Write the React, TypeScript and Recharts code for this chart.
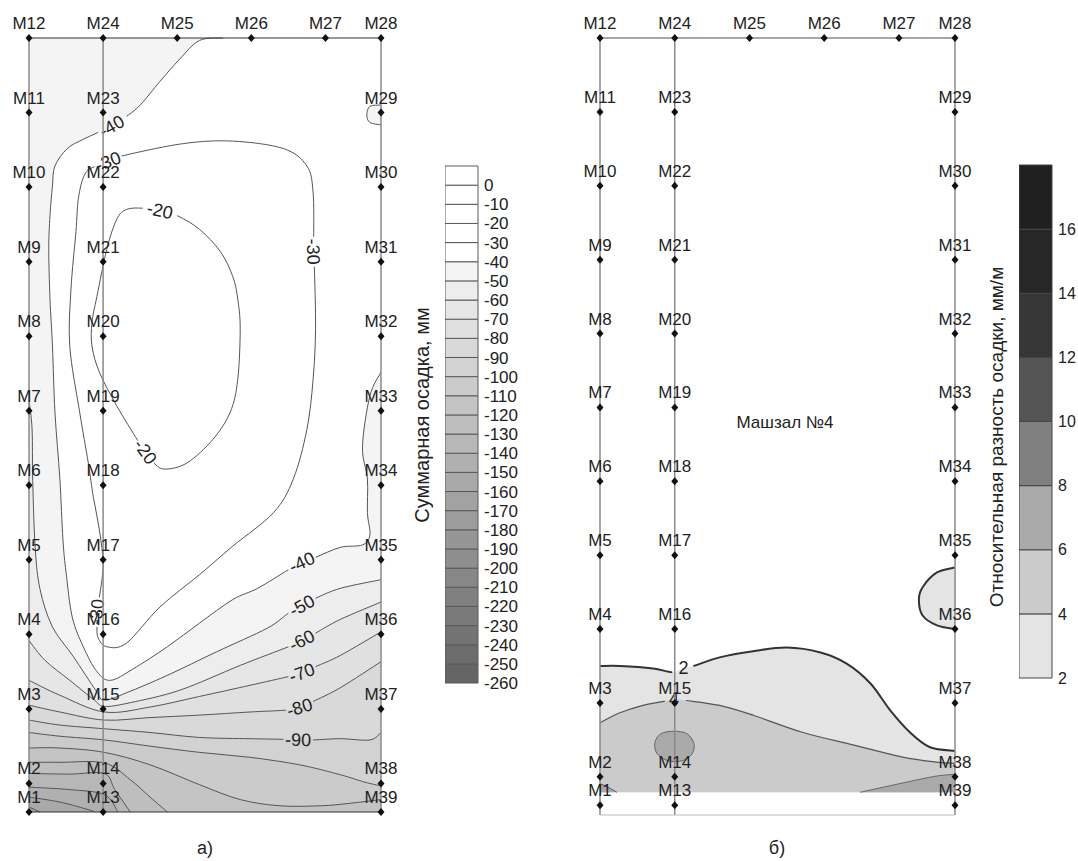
import React from "react";
import { Scatter, ScatterChart, XAxis, YAxis } from "recharts";

type Pt = { x: number; y: number };
type Mark = Pt & { name: string };

const font = '"Liberation Sans", Arial, sans-serif';

const toPts = (rows: number[][]): Pt[] => rows.map(([x, y]) => ({ x, y }));

// benchmarks, plan coordinates in metres (M1 at the origin)
const leftMarks: Mark[] = [
  { name: "M1", x: 0, y: 0 },
  { name: "M2", x: 0, y: 2.3 },
  { name: "M3", x: 0, y: 8.3 },
  { name: "M4", x: 0, y: 14.3 },
  { name: "M5", x: 0, y: 20.3 },
  { name: "M6", x: 0, y: 26.3 },
  { name: "M7", x: 0, y: 32.3 },
  { name: "M8", x: 0, y: 38.3 },
  { name: "M9", x: 0, y: 44.3 },
  { name: "M10", x: 0, y: 50.3 },
  { name: "M11", x: 0, y: 56.3 },
  { name: "M12", x: 0, y: 62.3 },
];

const innerMarks: Mark[] = [
  { name: "M13", x: 6, y: 0 },
  { name: "M14", x: 6, y: 2.3 },
  { name: "M15", x: 6, y: 8.3 },
  { name: "M16", x: 6, y: 14.3 },
  { name: "M17", x: 6, y: 20.3 },
  { name: "M18", x: 6, y: 26.3 },
  { name: "M19", x: 6, y: 32.3 },
  { name: "M20", x: 6, y: 38.3 },
  { name: "M21", x: 6, y: 44.3 },
  { name: "M22", x: 6, y: 50.3 },
  { name: "M23", x: 6, y: 56.3 },
  { name: "M24", x: 6, y: 62.3 },
];

const topMarks: Mark[] = [
  { name: "M25", x: 12, y: 62.3 },
  { name: "M26", x: 18, y: 62.3 },
  { name: "M27", x: 24, y: 62.3 },
];

const rightMarks: Mark[] = [
  { name: "M28", x: 28.5, y: 62.3 },
  { name: "M29", x: 28.5, y: 56.3 },
  { name: "M30", x: 28.5, y: 50.3 },
  { name: "M31", x: 28.5, y: 44.3 },
  { name: "M32", x: 28.5, y: 38.3 },
  { name: "M33", x: 28.5, y: 32.3 },
  { name: "M34", x: 28.5, y: 26.3 },
  { name: "M35", x: 28.5, y: 20.3 },
  { name: "M36", x: 28.5, y: 14.3 },
  { name: "M37", x: 28.5, y: 8.3 },
  { name: "M38", x: 28.5, y: 2.3 },
  { name: "M39", x: 28.5, y: 0 },
];

const allMarks = [...leftMarks, ...innerMarks, ...topMarks, ...rightMarks];

// panel a: total settlement isolines, mm
const isoA20 = toPts([
  [7.9, 48.5], [9.2, 48.6], [10.6, 48.4], [12.0, 48.0], [13.8, 46.9], [15.5, 45.1],
  [16.5, 43.1], [16.9, 41.3], [17.1, 38.9], [16.9, 34.8], [16.3, 32.2], [14.9, 30.0],
  [12.8, 28.1], [11.0, 27.6], [10.1, 28.1], [9.4, 29.0], [8.8, 29.9], [7.1, 32.7],
  [5.7, 35.4], [5.1, 37.5], [5.1, 39.4], [5.5, 41.5], [6.3, 45.3], [7.1, 47.7],
]);

const isoA30 = toPts([
  [7.5, 52.8], [12.5, 53.8], [16.5, 54.0], [20.6, 53.4], [22.5, 52.0], [23.0, 49.9],
  [23.05, 46.3], [23.0, 45.1], [23.1, 43.9], [23.2, 38.9], [23.0, 34.8], [22.5, 30.8],
  [21.4, 26.8], [19.8, 24.1], [16.5, 21.4], [13.8, 19.1], [10.6, 16.5], [7.9, 13.6],
  [6.3, 13.3], [5.6, 14.0], [5.5, 14.9], [5.5, 16.1], [5.7, 17.3], [6.0, 19.9],
  [5.7, 22.7], [5.2, 25.4], [4.8, 28.1], [4.1, 32.2], [3.3, 37.5], [3.4, 42.1],
  [3.8, 46.7], [4.0, 49.4], [4.5, 51.3], [5.3, 51.95], [6.4, 52.35],
]);

const isoA40 = toPts([
  [28.5, 35.4], [27.6, 33.5], [27.0, 29.4], [27.4, 26.8], [27.4, 24.1], [27.6, 22.3],
  [27.0, 21.5], [25.2, 21.3], [23.2, 20.5], [22.1, 20.1], [21.0, 19.5], [18.5, 18.0],
  [16.5, 17.1], [13.8, 15.2], [11.2, 13.3], [8.4, 11.5], [6.6, 10.6], [5.5, 11.3],
  [4.4, 13.3], [3.5, 15.7], [3.0, 19.3], [2.75, 21.9], [2.5, 26.8], [2.1, 32.2],
  [1.9, 37.5], [1.7, 41.3], [1.6, 45.3], [1.7, 48.0], [1.9, 50.4], [2.1, 52.0],
  [3.1, 53.4], [4.3, 54.1], [5.6, 54.7], [6.7, 55.2], [7.9, 56.0], [9.0, 56.9],
  [10.6, 58.8], [12.2, 60.6], [13.8, 62.1], [15.7, 62.3],
]);

const isoA40m29 = toPts([[28.5, 56.9], [27.6, 56.8], [27.35, 56.1], [27.6, 55.5], [28.5, 55.3]]);

const isoA50 = toPts([
  [0, 33.2], [0.25, 30.8], [0.3, 26.7], [0.5, 21.3], [0.9, 17.9], [1.9, 14.9], [3.6, 12.5],
  [5.4, 9.8], [6.1, 9.0], [7.9, 9.6], [11.2, 11.0], [15.2, 12.9], [19.3, 14.8], [21.0, 16.0],
  [22.1, 16.6], [23.2, 17.2], [25.2, 18.0], [28.5, 18.7],
]);
const isoA60 = toPts([
  [0, 13.8], [1.3, 12.2], [3.3, 10.6], [5.3, 9.0], [6.1, 8.5], [8.2, 8.8], [12.2, 9.8],
  [17.1, 11.8], [21.0, 13.3], [22.1, 13.8], [23.2, 14.4], [25.2, 15.5], [28.5, 16.9],
]);
const isoA70 = toPts([
  [0, 10.6], [2.5, 9.4], [6.1, 8.05], [9.8, 8.45], [13.8, 9.3], [17.9, 10.2], [21.0, 10.9],
  [22.1, 11.2], [23.2, 11.7], [25.2, 12.6], [28.5, 14.5],
]);
const isoA80 = toPts([
  [0, 8.6], [2.5, 8.05], [6.1, 7.4], [9.8, 7.6], [13.8, 7.8], [17.9, 8.05], [20.8, 8.2],
  [21.9, 8.4], [23.0, 8.9], [25.2, 10.0], [28.5, 12.1],
]);
const isoA90 = toPts([
  [0, 7.4], [2.5, 7.0], [6.1, 6.7], [9.8, 6.4], [13.8, 6.0], [17.9, 5.9], [20.6, 5.85],
  [21.8, 5.8], [23.0, 5.8], [25.2, 5.9], [27.6, 5.8], [28.5, 6.4],
]);
const isoA100 = toPts([
  [0, 6.4], [2.5, 6.1], [6.1, 5.8], [9.8, 5.3], [13.8, 4.8], [17.9, 4.4], [21.9, 3.8],
  [25.2, 3.0], [27.2, 2.4], [28.5, 2.1],
]);
const isoA110 = toPts([
  [0, 5.15], [2.5, 5.15], [6.1, 4.8], [9.8, 3.8], [13.8, 2.2], [17.1, 1.0], [20.3, 0.5],
  [23.6, 0.5], [26.0, 0.7], [28.5, 1.0],
]);
const isoA120 = toPts([[0, 4.0], [2.5, 4.0], [6.1, 3.95], [8.2, 2.6], [9.8, 1.2], [11.2, 0]]);
const isoA130 = toPts([[0, 3.1], [3.3, 3.05], [6.1, 3.1], [6.95, 1.8], [8.2, 0]]);
const isoA140 = toPts([[0, 2.0], [3.3, 1.8], [6.1, 1.4], [7.2, 0]]);
const isoA150 = toPts([[0, 1.2], [2.5, 0.8], [4.9, 0.16], [5.3, 0]]);
const isoA160 = toPts([[0, 0.4], [0.9, 0]]);

const lowerIsoA = [
  { level: -50, line: isoA50, tags: [14] },
  { level: -60, line: isoA60, tags: [9] },
  { level: -70, line: isoA70, tags: [7] },
  { level: -80, line: isoA80, tags: [7] },
  { level: -90, line: isoA90, tags: [7] },
  { level: -100, line: isoA100, tags: [] },
  { level: -110, line: isoA110, tags: [] },
  { level: -120, line: isoA120, tags: [] },
  { level: -130, line: isoA130, tags: [] },
  { level: -140, line: isoA140, tags: [] },
  { level: -150, line: isoA150, tags: [] },
  { level: -160, line: isoA160, tags: [] },
];

const legendTicksA = [
  0, -10, -20, -30, -40, -50, -60, -70, -80, -90, -100, -110, -120, -130,
  -140, -150, -160, -170, -180, -190, -200, -210, -220, -230, -240, -250, -260,
];
const legendTopA = 10;

// panel b: relative settlement difference, mm/m
const lowEdgeB: Pt[] = [{ x: 0, y: -0.8 }, { x: 6, y: -0.8 }, { x: 28.5, y: -0.8 }];
const fieldFloorB: Pt[] = [{ x: 28.5, y: 1.05 }, { x: 0, y: 1.05 }];

const isoB2 = toPts([
  [0, 11.3], [1.6, 11.3], [4.25, 11.1], [5.8, 10.8], [6.7, 11.1], [7.5, 11.3], [9.6, 12.0],
  [12.3, 12.5], [15.0, 12.8], [17.7, 12.4], [19.8, 11.5], [21.7, 9.9], [23.3, 7.7],
  [24.9, 5.9], [26.5, 4.7], [28.5, 4.4],
]);
const isoB2side = toPts([
  [28.5, 19.3], [27.05, 18.9], [25.9, 17.7], [25.6, 16.7], [25.9, 15.4], [27.05, 14.6], [28.5, 14.3],
]);
const isoB4 = toPts([
  [0, 6.7], [1.6, 7.5], [3.45, 8.1], [5.2, 8.45], [5.95, 8.6], [6.9, 8.5], [9.6, 8.1],
  [12.3, 7.3], [16.3, 5.9], [20.3, 4.9], [24.3, 3.9], [27.0, 3.5], [28.5, 3.4],
]);
const isoB6spot = toPts([
  [5.94, 6.0], [6.98, 5.8], [7.54, 5.0], [7.38, 4.15], [6.58, 3.6], [5.46, 3.6],
  [4.57, 4.2], [4.41, 5.1], [4.9, 5.8],
]);
const isoB6edge = toPts([[20.9, 1.05], [24.3, 1.8], [27.0, 2.36], [28.5, 2.5]]);
const isoB6corner = toPts([[0, 1.75], [0.65, 1.45], [1.35, 1.05]]);

const hallB: Mark[] = [{ name: "Машзал №4", x: 14.85, y: 31.1 }];

const legendTicksB = [2, 4, 6, 8, 10, 12, 14, 16];
const legendTopB = 18;
const shadesB = ["#e4e4e4", "#cbcbcb", "#aaaaaa", "#808080", "#555555", "#363636", "#272727", "#202020"];

const greyA = (level: number) => {
  const v = level > -40 ? 255 : Math.round(244 - 0.68 * (-40 - level));
  return `rgb(${v},${v},${v})`;
};

const none = () => <g />;

function pieces(pts: Pt[], closed: boolean) {
  const n = pts.length;
  const at = (i: number) => (closed ? pts[((i % n) + n) % n] : pts[Math.min(n - 1, Math.max(0, i))]);
  const out: { a: number; b: number; m: string; c: string }[] = [];
  const count = closed ? n : n - 1;
  for (let i = 0; i < count; i++) {
    const p0 = at(i - 1);
    const p1 = at(i);
    const p2 = at(i + 1);
    const p3 = at(i + 2);
    const c1x = p1.x + (p2.x - p0.x) / 6;
    const c1y = p1.y + (p2.y - p0.y) / 6;
    const c2x = p2.x - (p3.x - p1.x) / 6;
    const c2y = p2.y - (p3.y - p1.y) / 6;
    out.push({ a: i, b: (i + 1) % n, m: `M${p1.x},${p1.y}`, c: `C${c1x},${c1y} ${c2x},${c2y} ${p2.x},${p2.y}` });
  }
  return out;
}

// filled region: smooth along the isoline, straight along the frame
function Patch(props: any) {
  const pts: Pt[] = props.points || [];
  if (pts.length < 2) return null;
  const k = props.smooth ?? pts.length;
  let d = `M${pts[0].x},${pts[0].y}`;
  if (k >= 2) d += pieces(pts.slice(0, k), !!props.loop).map((s) => s.c).join("");
  pts.slice(Math.max(k, 1)).forEach((p) => (d += `L${p.x},${p.y}`));
  return <path d={d + "Z"} fill={props.paint} stroke={props.edge || "none"} strokeWidth={1} />;
}

function Isoline(props: any) {
  const pts: Pt[] = props.points || [];
  if (pts.length < 2) return null;
  const closed = !!props.loop;
  const tags: number[] = props.tags || [];
  const n = pts.length;
  const d = pieces(pts, closed)
    .filter((s) => !tags.includes(s.a) && !tags.includes(s.b))
    .map((s) => s.m + s.c)
    .join("");
  return (
    <g>
      <path d={d} fill="none" stroke={props.ink} strokeWidth={props.weight} />
      {tags.map((i) => {
        const p = pts[i];
        const prev = closed ? pts[(i - 1 + n) % n] : pts[Math.max(0, i - 1)];
        const next = closed ? pts[(i + 1) % n] : pts[Math.min(n - 1, i + 1)];
        let ang = props.upright ? 0 : (Math.atan2(next.y - prev.y, next.x - prev.x) * 180) / Math.PI;
        if (ang > 91) ang -= 180;
        if (ang < -91) ang += 180;
        return (
          <text
            key={i}
            x={p.x}
            y={p.y}
            transform={`rotate(${ang.toFixed(1)} ${p.x} ${p.y})`}
            textAnchor="middle"
            dominantBaseline="central"
            fontSize={props.size}
            fill="#222"
          >
            {props.caption}
          </text>
        );
      })}
    </g>
  );
}

const renderMark = (props: any) => {
  const { cx, cy, payload } = props;
  return (
    <g>
      <path d={`M${cx},${cy - 4}L${cx + 3.5},${cy}L${cx},${cy + 4}L${cx - 3.5},${cy}Z`} fill="#111" />
      <text x={cx} y={cy - 9} textAnchor="middle" fontSize={17} fill="#222">
        {payload.name}
      </text>
    </g>
  );
};

const renderTitle = (props: any) => (
  <text x={props.cx} y={props.cy} textAnchor="middle" dominantBaseline="central" fontSize={17} fill="#222">
    {props.payload.name}
  </text>
);

const floorA = (line: Pt[]) =>
  line[line.length - 1].x >= 28.5 ? [...line, rightMarks[11], leftMarks[0]] : [...line, leftMarks[0]];

const frameA = [leftMarks[0], rightMarks[11], rightMarks[0], leftMarks[11]];
const topEdge = [leftMarks[11], innerMarks[11], ...topMarks, rightMarks[0]];
const bottomEdgeA = [leftMarks[0], innerMarks[0], rightMarks[11]];

const labelSize = 18;

function PanelA() {
  return (
    <ScatterChart width={420} height={861} margin={{ top: 38, right: 39, bottom: 49, left: 29 }}>
      <XAxis type="number" dataKey="x" domain={[0, 28.5]} hide />
      <YAxis type="number" dataKey="y" domain={[0, 62.3]} hide />
      <Scatter data={frameA} shape={none} isAnimationActive={false} line={<Patch paint={greyA(-40)} smooth={0} />} />
      <Scatter
        data={[...isoA40, rightMarks[0]]}
        shape={none}
        isAnimationActive={false}
        line={<Patch paint="#ffffff" smooth={isoA40.length} />}
      />
      <Scatter data={isoA40m29} shape={none} isAnimationActive={false} line={<Patch paint={greyA(-40)} />} />
      {lowerIsoA.map((iso) => (
        <Scatter
          key={`f${iso.level}`}
          data={floorA(iso.line)}
          shape={none}
          isAnimationActive={false}
          line={<Patch paint={greyA(iso.level)} smooth={iso.line.length} />}
        />
      ))}
      <Scatter data={isoA20} shape={none} isAnimationActive={false}
        line={<Isoline loop tags={[2, 15]} caption="-20" ink="#555" weight={1} size={labelSize} />} />
      <Scatter data={isoA30} shape={none} isAnimationActive={false}
        line={<Isoline loop tags={[7, 21, 34]} caption="-30" ink="#555" weight={1} size={labelSize} />} />
      <Scatter data={isoA40} shape={none} isAnimationActive={false}
        line={<Isoline tags={[9, 33]} caption="-40" ink="#555" weight={1} size={labelSize} />} />
      <Scatter data={isoA40m29} shape={none} isAnimationActive={false}
        line={<Isoline tags={[]} caption="" ink="#555" weight={1} size={labelSize} />} />
      {lowerIsoA.map((iso) => (
        <Scatter
          key={`l${iso.level}`}
          data={iso.line}
          shape={none}
          isAnimationActive={false}
          line={<Isoline tags={iso.tags} caption={String(iso.level)} ink="#555" weight={1} size={labelSize} />}
        />
      ))}
      <Scatter data={leftMarks} shape={none} isAnimationActive={false} line={{ stroke: "#8a8a8a", strokeWidth: 1.5 }} />
      <Scatter data={innerMarks} shape={none} isAnimationActive={false} line={{ stroke: "#8a8a8a", strokeWidth: 1.5 }} />
      <Scatter data={rightMarks} shape={none} isAnimationActive={false} line={{ stroke: "#8a8a8a", strokeWidth: 1.5 }} />
      <Scatter data={topEdge} shape={none} isAnimationActive={false} line={{ stroke: "#333", strokeWidth: 1.2 }} />
      <Scatter data={bottomEdgeA} shape={none} isAnimationActive={false} line={{ stroke: "#333", strokeWidth: 1.2 }} />
      <Scatter data={allMarks} shape={renderMark} isAnimationActive={false} />
    </ScatterChart>
  );
}

function PanelB() {
  const floorB = (line: Pt[]) => [...line, ...fieldFloorB];
  return (
    <ScatterChart width={440} height={861} margin={{ top: 38, right: 45, bottom: 46, left: 40 }}>
      <XAxis type="number" dataKey="x" domain={[0, 28.5]} hide />
      <YAxis type="number" dataKey="y" domain={[-0.8, 62.3]} hide />
      <Scatter data={floorB(isoB2)} shape={none} isAnimationActive={false}
        line={<Patch paint={shadesB[0]} smooth={isoB2.length} />} />
      <Scatter data={isoB2side} shape={none} isAnimationActive={false} line={<Patch paint={shadesB[0]} />} />
      <Scatter data={floorB(isoB4)} shape={none} isAnimationActive={false}
        line={<Patch paint={shadesB[1]} smooth={isoB4.length} />} />
      <Scatter data={isoB6spot} shape={none} isAnimationActive={false} line={<Patch paint={shadesB[2]} loop />} />
      <Scatter data={[...isoB6edge, fieldFloorB[0]]} shape={none} isAnimationActive={false}
        line={<Patch paint={shadesB[2]} smooth={isoB6edge.length} />} />
      <Scatter data={[...isoB6corner, fieldFloorB[1]]} shape={none} isAnimationActive={false}
        line={<Patch paint={shadesB[2]} smooth={isoB6corner.length} />} />
      <Scatter data={isoB2} shape={none} isAnimationActive={false}
        line={<Isoline tags={[4]} upright caption="2" ink="#333" weight={2} size={labelSize} />} />
      <Scatter data={isoB2side} shape={none} isAnimationActive={false}
        line={<Isoline tags={[]} caption="" ink="#333" weight={2} size={labelSize} />} />
      <Scatter data={isoB4} shape={none} isAnimationActive={false}
        line={<Isoline tags={[4]} upright caption="4" ink="#555" weight={1.2} size={labelSize} />} />
      <Scatter data={isoB6spot} shape={none} isAnimationActive={false}
        line={<Isoline loop tags={[]} caption="" ink="#666" weight={1} size={labelSize} />} />
      <Scatter data={isoB6edge} shape={none} isAnimationActive={false}
        line={<Isoline tags={[]} caption="" ink="#666" weight={1} size={labelSize} />} />
      <Scatter data={isoB6corner} shape={none} isAnimationActive={false}
        line={<Isoline tags={[]} caption="" ink="#555" weight={1} size={labelSize} />} />
      <Scatter data={[lowEdgeB[0], ...leftMarks]} shape={none} isAnimationActive={false} line={{ stroke: "#8a8a8a", strokeWidth: 1.5 }} />
      <Scatter data={[lowEdgeB[1], ...innerMarks]} shape={none} isAnimationActive={false} line={{ stroke: "#8a8a8a", strokeWidth: 1.5 }} />
      <Scatter data={[...rightMarks, lowEdgeB[2]]} shape={none} isAnimationActive={false} line={{ stroke: "#8a8a8a", strokeWidth: 1.5 }} />
      <Scatter data={topEdge} shape={none} isAnimationActive={false} line={{ stroke: "#8a8a8a", strokeWidth: 1.5 }} />
      <Scatter data={lowEdgeB} shape={none} isAnimationActive={false} line={{ stroke: "#bbb", strokeWidth: 1.2 }} />
      <Scatter data={allMarks} shape={renderMark} isAnimationActive={false} />
      <Scatter data={hallB} shape={renderTitle} isAnimationActive={false} />
    </ScatterChart>
  );
}

const cell = (lo: number, hi: number): Pt[] => [
  { x: 0, y: lo },
  { x: 1, y: lo },
  { x: 1, y: hi },
  { x: 0, y: hi },
];

function ColourBar(props: {
  ticks: number[];
  top: number;
  fills: string[];
  edge: string;
  axisWidth: number;
  fontSize: number;
  marginTop: number;
  marginBottom: number;
}) {
  const { ticks, top, fills, edge, axisWidth, fontSize, marginTop, marginBottom } = props;
  const sorted = [...ticks].sort((a, b) => a - b);
  const bands = sorted.map((lo, i) => ({ lo, hi: i === sorted.length - 1 ? top : sorted[i + 1] }));
  return (
    <ScatterChart width={33 + axisWidth} height={861} margin={{ top: marginTop, right: 0, bottom: marginBottom, left: 0 }}>
      <XAxis type="number" dataKey="x" domain={[0, 1]} hide />
      <YAxis
        type="number"
        dataKey="y"
        orientation="right"
        domain={[sorted[0], top]}
        ticks={ticks}
        interval={0}
        width={axisWidth}
        tickLine={false}
        axisLine={false}
        tickSize={4}
        tickMargin={2}
        tick={{ fill: "#222", fontSize }}
      />
      {bands.map((b, i) => (
        <Scatter
          key={b.lo}
          data={cell(b.lo, b.hi)}
          shape={none}
          isAnimationActive={false}
          line={<Patch paint={fills[i]} edge={edge} smooth={0} />}
        />
      ))}
    </ScatterChart>
  );
}

const abs = (left: number, top: number): React.CSSProperties => ({ position: "absolute", left, top });

const caption = (cx: number, cy: number, rotate: boolean, size: number): React.CSSProperties => ({
  position: "absolute",
  left: cx,
  top: cy,
  transform: `translate(-50%, -50%)${rotate ? " rotate(-90deg)" : ""}`,
  whiteSpace: "nowrap",
  fontSize: size,
  color: "#222",
});

export default function App() {
  const sortedA = [...legendTicksA].sort((a, b) => a - b);
  const fillsA = sortedA.map((lo, i) => greyA(i === sortedA.length - 1 ? legendTopA : sortedA[i + 1]));
  return (
    <div style={{ position: "absolute", left: 0, top: 0, width: 1078, height: 861, fontFamily: font, background: "#fff" }}>
      <div style={abs(0, 0)}>
        <PanelA />
      </div>
      <div style={abs(445, 0)}>
        <ColourBar ticks={legendTicksA} top={legendTopA} fills={fillsA} edge="#5a5a5a" axisWidth={50}
          fontSize={17} marginTop={166} marginBottom={178} />
      </div>
      <div style={caption(422, 415, true, 20)}>Суммарная осадка, мм</div>
      <div style={abs(560, 0)}>
        <PanelB />
      </div>
      <div style={abs(1019, 0)}>
        <ColourBar ticks={legendTicksB} top={legendTopB} fills={shadesB} edge="#444" axisWidth={25}
          fontSize={16} marginTop={165} marginBottom={183} />
      </div>
      <div style={caption(997, 437, true, 19)}>Относительная разность осадки, мм/м</div>
      <div style={caption(205, 848, false, 18)}>а)</div>
      <div style={caption(777, 848, false, 18)}>б)</div>
    </div>
  );
}
